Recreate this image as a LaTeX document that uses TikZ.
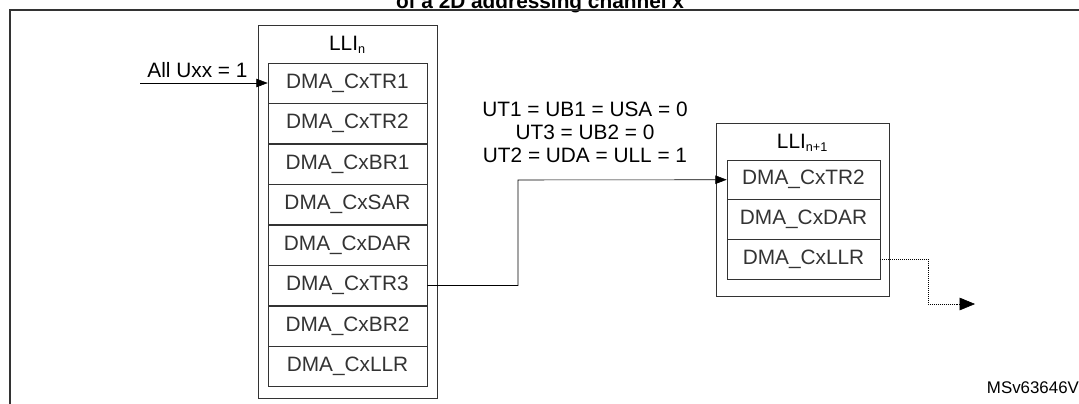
\documentclass[tikz,border=0pt]{standalone}
\usepackage{fontspec}
\setmainfont{Liberation Sans}
\usetikzlibrary{arrows.meta,positioning}
\begin{document}
\begin{tikzpicture}[x=0.025cm,y=-0.025cm,font=\fontsize{14.8}{17}\selectfont]

		\tikzstyle{frame}=[draw,thick,black!80];
		\tikzstyle{reg}=[rectangle,draw,black!80,minimum height=1.01cm,inner sep=0pt];
		\tikzstyle{link}=[-{Triangle[length=8pt,width=6pt]},black];
		\tikzstyle{next}=[densely dotted,-{Triangle[length=11pt,width=9pt]},black];

		\useasboundingbox (0,0) rectangle (1079,403);
		\clip (0,0) rectangle (1079,403);

		\node (title) at (540,3) {\bfseries of a 2D addressing channel x};
		\draw [frame] (10,10) rectangle (1085,410);

		% LLI n
		\draw [black!80] (258,25) rectangle (437,398);
		\node (lln) at (347.5,45) {LLI\textsubscript{\fontsize{9}{10}\selectfont n}};
		\foreach \name [count=\i] in {TR1,TR2,BR1,SAR,DAR,TR3,BR2,LLR}
			\node (n\i) at (347.5,42.5+40.5*\i) [reg,minimum width=3.975cm] {DMA\_Cx\name};

		% LLI n+1
		\draw [black!80] (716,123) rectangle (889,296);
		\node (lln1) at (802.5,143) {LLI\textsubscript{\fontsize{9}{10}\selectfont n+1}};
		\foreach \name [count=\i] in {TR2,DAR,LLR}
			\node (m\i) at (803.5,140+39.7*\i) [reg,minimum width=3.825cm,minimum height=0.99cm] {DMA\_Cx\name};

		\coordinate (in) at (140,83);
		\draw [link] (in) -- (n1.west) node[pos=0.45,anchor=south]{All Uxx = 1};

		\draw [link] (n6.east) -| (518,180) -- (m1.west);
		\node (c1) at (585,109) {UT1 = UB1 = USA = 0};
		\node (c2) at (585,132) {UT3 = UB2 = 0};
		\node (c3) at (585,155) {UT2 = UDA = ULL = 1};

		\coordinate (out) at (975,304);
		\draw [next] (m3.east) -| (928,304) -- (out);

		\node (id) [anchor=west,font=\fontsize{12}{14}\selectfont] at (982,388) {MSv63646V1};
	\end{tikzpicture}
\end{document}
